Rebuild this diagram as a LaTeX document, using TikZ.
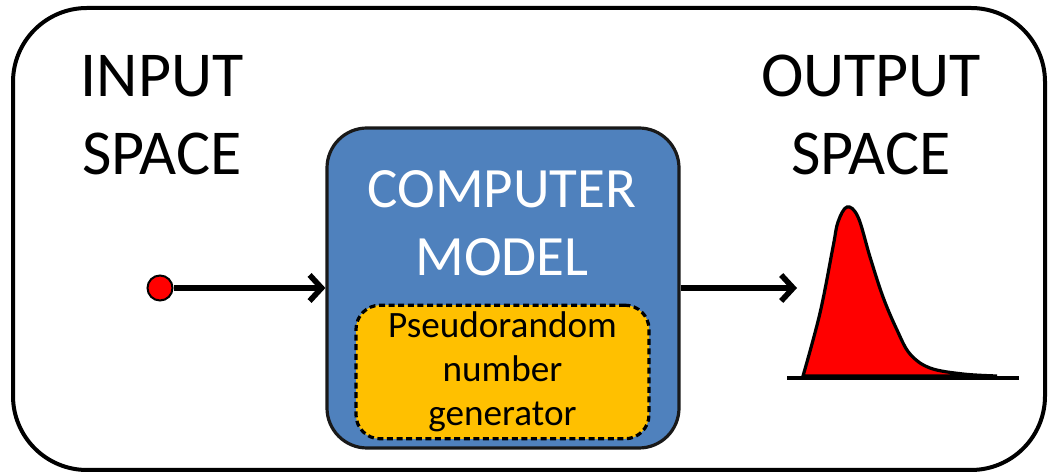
\documentclass[tikz,border=0pt]{standalone}
\usepackage{fontspec}
\setmainfont{Carlito}
\usepackage{xcolor}
\usepackage{tikz}
\usetikzlibrary{arrows.meta,calc,positioning,shapes}

\definecolor{modelblue}{HTML}{4F81BD}
\definecolor{prngorange}{HTML}{FFC000}

\tikzset{
	frame/.style={draw,line width=2pt,rounded corners=37pt},
	spacelabel/.style={align=center,font=\fontsize{32}{39}\selectfont},
	modelbox/.style={draw=black!90,line width=1.6pt,fill=modelblue,rounded corners=20pt,
		minimum width=176pt,minimum height=160pt},
	prngbox/.style={draw,dash pattern=on 3pt off 1.8pt,line width=1.6pt,fill=prngorange,rounded corners=12pt,
		minimum width=146.5pt,minimum height=66.5pt,align=center,
		font=\fontsize{18.6}{22}\selectfont},
	flow/.style={line width=2.8pt,-{Straight Barb[length=6pt,width=13pt]}},
	dist/.style={draw,line width=1.6pt,fill=red}
}

\begin{document}
\begin{tikzpicture}[x=0.5pt,y=-0.5pt]
	\useasboundingbox (0,0) rectangle (1048,474);
	\draw[frame] (13,8) rectangle (1045,470);
	\node[spacelabel] (input) at (162,115) {INPUT\\SPACE};
	\node[spacelabel] (output) at (871,115) {OUTPUT\\SPACE};
	\node[modelbox] (model) at (503,288) {};
	\node[align=center,text=white,font=\fontsize{28.5}{34}\selectfont] (modeltext) at (502,223.5) {COMPUTER\\MODEL};
	\node[prngbox] (prng) at (502.5,372) {Pseudorandom\\number\\generator};
	\node[circle,draw,fill=red,line width=1pt,minimum size=12.5pt,inner sep=0pt] (x) at (160,288) {};
	\coordinate (y) at (797,288);
	\draw[flow] (x) -- (model);
	\draw[flow] (model) -- (y);
	% output distribution
	\draw[line width=2pt] (787,378) -- (1019,378);
	\filldraw[dist] plot[smooth,tension=0.6] coordinates {(803,376) (820,313) (833,247) (838,222) (847,207) (858,217) (870,257) (883,297) (897,330) (910,354) (930,368) (963,374) (997,376)} -- cycle;
\end{tikzpicture}
\end{document}
